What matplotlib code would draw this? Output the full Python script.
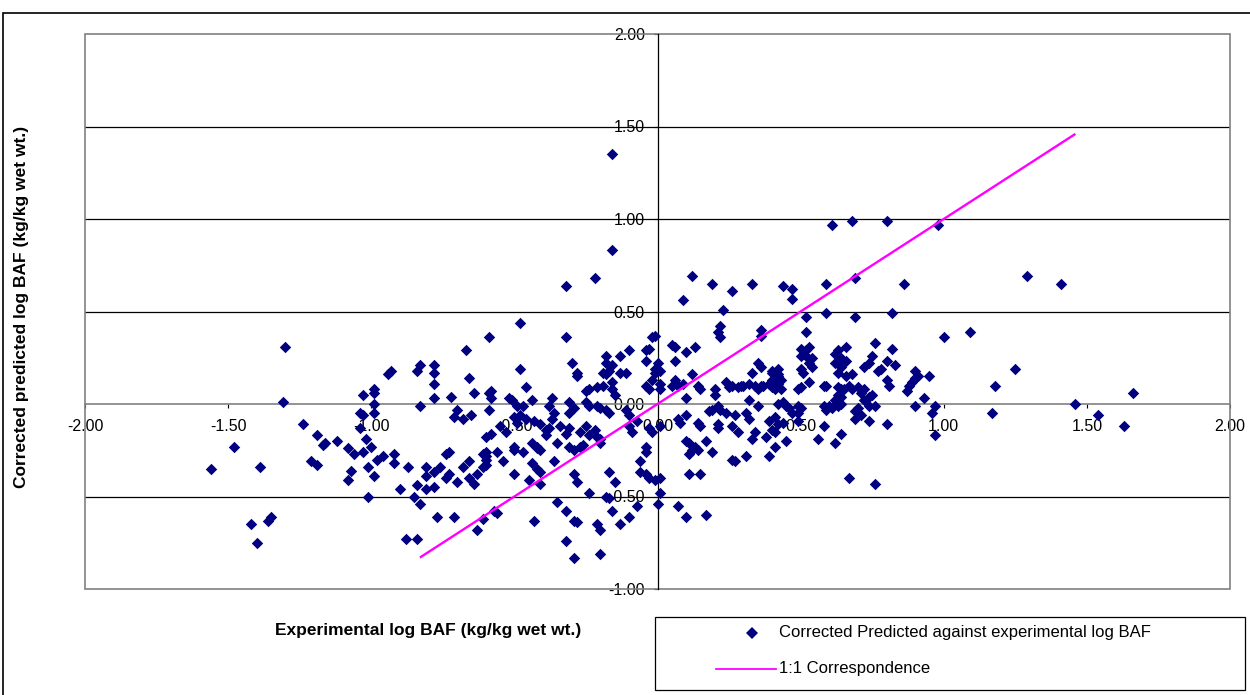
import matplotlib
matplotlib.use("Agg")
import matplotlib.pyplot as plt
from matplotlib.patches import Rectangle
from matplotlib.lines import Line2D
from matplotlib.ticker import FormatStrFormatter

plt.rcParams['font.family'] = ['Liberation Sans', 'DejaVu Sans']

# Experimental log BAF (x) and corrected predicted log BAF (y), one entry per compound
exp_log_baf = [
    -1.56, -1.48, -1.42, -1.40, -1.39, -1.36, -1.35, -1.31, -1.30, -1.24,
    -1.21, -1.19, -1.19, -1.17, -1.16, -1.12, -1.08, -1.06, -1.08, -1.07,
    -1.04, -1.03, -1.04, -1.03, -1.03, -1.02, -1.01, -1.01, -1.00, -0.99,
    -0.99, -0.99, -0.99, -0.99, -0.98, -0.96, -0.94, -0.93, -0.92, -0.92,
    -0.90, -0.88, -0.87, -0.85, -0.84, -0.83, -0.83, -0.84, -0.84, -0.83,
    -0.81, -0.81, -0.81, -0.78, -0.78, -0.78, -0.78, -0.78, -0.78, -0.77,
    -0.76, -0.74, -0.73, -0.74, -0.73, -0.72, -0.71, -0.71, -0.70, -0.70,
    -0.68, -0.68, -0.67, -0.66, -0.66, -0.66, -0.65, -0.64, -0.64, -0.63,
    -0.63, -0.61, -0.61, -0.60, -0.61, -0.60, -0.59, -0.59, -0.59, -0.58,
    -0.58, -0.58, -0.60, -0.60, -0.60, -0.56, -0.54, -0.57, -0.56, -0.55,
    -0.53, -0.52, -0.51, -0.50, -0.49, -0.49, -0.48, -0.48, -0.48, -0.47,
    -0.46, -0.46, -0.50, -0.50, -0.47, -0.50, -0.44, -0.42, -0.42, -0.41,
    -0.44, -0.42, -0.41, -0.45, -0.41, -0.43, -0.44, -0.43, -0.41, -0.39,
    -0.38, -0.39, -0.37, -0.38, -0.36, -0.37, -0.36, -0.35, -0.35, -0.34,
    -0.32, -0.32, -0.32, -0.32, -0.32, -0.31, -0.31, -0.31, -0.31, -0.30,
    -0.29, -0.29, -0.29, -0.29, -0.29, -0.28, -0.28, -0.28, -0.27, -0.27,
    -0.28, -0.26, -0.25, -0.24, -0.25, -0.24, -0.25, -0.24, -0.24, -0.22,
    -0.22, -0.21, -0.21, -0.21, -0.21, -0.20, -0.20, -0.20, -0.20, -0.20,
    -0.19, -0.19, -0.18, -0.18, -0.18, -0.18, -0.18, -0.17, -0.17, -0.17,
    -0.16, -0.16, -0.16, -0.17, -0.16, -0.16, -0.15, -0.15, -0.16, -0.13,
    -0.13, -0.13, -0.11, -0.11, -0.10, -0.10, -0.10, -0.09, -0.10, -0.07,
    -0.07, -0.06, -0.06, -0.04, -0.03, -0.04, -0.04, -0.04, -0.04, -0.04,
    -0.03, -0.03, -0.03, -0.02, -0.01, -0.02, -0.02, -0.01, -0.01, -0.01,
    0.00, 0.00, 0.01, 0.01, 0.01, 0.01, 0.01, 0.01, 0.05, 0.06,
    0.06, 0.06, 0.07, 0.05, 0.07, 0.07, 0.08, 0.09, 0.09, 0.10,
    0.10, 0.10, 0.10, 0.10, 0.11, 0.11, 0.11, 0.12, 0.12, 0.12,
    0.13, 0.13, 0.14, 0.14, 0.15, 0.14, 0.15, 0.15, 0.17, 0.17,
    0.18, 0.19, 0.19, 0.19, 0.20, 0.20, 0.21, 0.21, 0.21, 0.21,
    0.22, 0.22, 0.22, 0.23, 0.24, 0.24, 0.25, 0.26, 0.26, 0.26,
    0.26, 0.27, 0.27, 0.28, 0.28, 0.29, 0.30, 0.31, 0.31, 0.32,
    0.32, 0.32, 0.33, 0.33, 0.33, 0.34, 0.34, 0.35, 0.35, 0.35,
    0.36, 0.36, 0.36, 0.36, 0.37, 0.38, 0.39, 0.39, 0.39, 0.40,
    0.40, 0.41, 0.41, 0.41, 0.41, 0.42, 0.42, 0.40, 0.42, 0.43,
    0.40, 0.42, 0.40, 0.43, 0.42, 0.44, 0.45, 0.46, 0.49, 0.50,
    0.47, 0.49, 0.42, 0.40, 0.44, 0.49, 0.45, 0.44, 0.47, 0.47,
    0.49, 0.50, 0.50, 0.52, 0.53, 0.50, 0.52, 0.54, 0.53, 0.54,
    0.50, 0.51, 0.53, 0.52, 0.52, 0.56, 0.58, 0.59, 0.58, 0.58,
    0.59, 0.59, 0.59, 0.60, 0.61, 0.61, 0.62, 0.62, 0.62, 0.62,
    0.63, 0.63, 0.63, 0.63, 0.63, 0.64, 0.64, 0.64, 0.64, 0.64,
    0.64, 0.65, 0.66, 0.66, 0.66, 0.67, 0.67, 0.68, 0.68, 0.68,
    0.69, 0.69, 0.69, 0.69, 0.70, 0.70, 0.71, 0.71, 0.72, 0.72,
    0.72, 0.74, 0.74, 0.74, 0.74, 0.75, 0.75, 0.76, 0.76, 0.76,
    0.77, 0.78, 0.80, 0.80, 0.80, 0.80, 0.81, 0.82, 0.82, 0.83,
    0.86, 0.87, 0.88, 0.89, 0.90, 0.90, 0.91, 0.90, 0.93, 0.95,
    0.97, 0.96, 0.97, 0.98, 1.00, 1.09, 1.17, 1.18, 1.25, 1.29,
    1.41, 1.46, 1.54, 1.63, 1.66,
]

pred_log_baf = [
    -0.35, -0.23, -0.65, -0.75, -0.34, -0.63, -0.61, 0.01, 0.31, -0.11,
    -0.31, -0.17, -0.33, -0.22, -0.21, -0.20, -0.24, -0.27, -0.41, -0.36,
    -0.05, -0.06, -0.13, 0.05, -0.26, -0.19, -0.34, -0.50, -0.23, 0.06,
    0.08, 0.00, -0.05, -0.39, -0.30, -0.28, 0.16, 0.18, -0.27, -0.32,
    -0.46, -0.73, -0.34, -0.50, 0.18, 0.21, -0.01, -0.44, -0.73, -0.54,
    -0.34, -0.39, -0.46, 0.21, 0.17, 0.11, 0.03, -0.37, -0.45, -0.61,
    -0.34, -0.27, -0.26, -0.40, -0.38, 0.04, -0.07, -0.61, -0.03, -0.42,
    -0.08, -0.34, 0.29, 0.14, -0.31, -0.40, -0.06, 0.06, -0.43, -0.38,
    -0.68, -0.27, -0.62, -0.30, -0.34, -0.18, 0.36, 0.06, -0.03, 0.07,
    0.03, -0.16, -0.26, -0.28, -0.33, -0.26, -0.31, -0.58, -0.59, -0.12,
    -0.15, 0.03, 0.02, -0.07, -0.10, -0.01, 0.44, 0.19, -0.06, -0.01,
    0.09, -0.08, -0.23, -0.25, -0.26, -0.38, -0.21, -0.23, -0.24, -0.25,
    -0.32, -0.35, -0.37, -0.41, -0.43, -0.63, 0.02, -0.09, -0.11, -0.14,
    -0.13, -0.17, 0.03, -0.01, -0.05, -0.08, -0.31, -0.21, -0.53, -0.12,
    0.36, 0.64, -0.16, -0.58, -0.74, 0.01, -0.05, -0.13, -0.23, 0.22,
    -0.02, -0.25, -0.38, -0.63, -0.83, 0.17, 0.15, -0.42, -0.15, -0.23,
    -0.64, -0.22, 0.07, 0.08, 0.01, -0.01, -0.12, -0.17, -0.48, -0.14,
    0.68, 0.09, -0.01, -0.18, -0.65, -0.02, -0.19, -0.21, -0.68, -0.81,
    0.10, 0.17, 0.26, 0.22, 0.16, -0.03, -0.50, -0.05, -0.37, -0.51,
    1.35, 0.83, 0.21, 0.18, 0.12, 0.08, 0.05, -0.42, -0.58, 0.26,
    0.17, -0.65, 0.17, -0.03, 0.29, -0.06, -0.12, -0.15, -0.61, -0.09,
    -0.55, -0.31, -0.37, 0.29, 0.30, 0.23, 0.10, -0.23, -0.26, -0.38,
    0.08, -0.13, -0.40, 0.36, 0.37, 0.13, -0.15, 0.19, 0.17, -0.41,
    0.22, -0.54, 0.18, 0.11, 0.08, -0.12, -0.40, -0.48, 0.32, 0.31,
    0.23, 0.13, 0.10, 0.10, -0.08, -0.55, -0.10, 0.56, 0.11, 0.28,
    0.03, -0.06, -0.20, -0.61, -0.21, -0.27, -0.38, 0.69, 0.16, -0.25,
    0.31, -0.23, -0.25, -0.10, -0.12, 0.10, 0.08, -0.38, -0.20, -0.60,
    -0.04, 0.65, -0.03, -0.26, 0.08, 0.05, -0.01, 0.39, -0.11, -0.13,
    0.42, 0.36, -0.03, 0.51, 0.12, -0.05, 0.09, 0.10, 0.61, -0.12,
    -0.30, -0.06, -0.31, 0.09, -0.15, 0.10, 0.10, -0.05, -0.28, 0.11,
    0.02, -0.08, 0.65, 0.17, -0.19, 0.10, -0.15, 0.22, 0.08, -0.01,
    0.20, 0.40, 0.37, 0.10, 0.10, -0.18, 0.11, -0.09, -0.28, 0.10,
    0.18, 0.08, -0.07, -0.15, -0.23, 0.16, 0.19, 0.17, 0.15, 0.13,
    0.13, 0.11, 0.09, 0.08, 0.00, 0.01, -0.01, -0.02, -0.01, -0.02,
    -0.05, -0.05, -0.11, -0.14, -0.10, -0.09, -0.20, 0.64, 0.62, 0.57,
    0.08, 0.09, 0.30, 0.29, 0.31, 0.26, 0.26, 0.25, 0.22, 0.20,
    0.19, 0.17, 0.12, 0.47, 0.39, -0.19, 0.10, 0.10, -0.01, -0.12,
    0.49, 0.65, -0.03, -0.01, -0.02, 0.97, 0.27, 0.22, 0.02, -0.21,
    0.29, 0.17, 0.09, 0.05, -0.01, 0.25, 0.20, 0.08, 0.04, 0.00,
    -0.16, 0.08, 0.31, 0.23, 0.15, 0.10, -0.40, 0.16, 0.08, 0.99,
    0.68, 0.47, -0.04, -0.08, 0.09, -0.02, 0.06, -0.06, 0.08, 0.02,
    0.20, 0.04, 0.22, -0.01, -0.09, 0.05, 0.26, -0.01, 0.33, -0.43,
    0.18, 0.19, 0.23, 0.13, -0.11, 0.99, 0.10, 0.49, 0.30, 0.21,
    0.65, 0.07, 0.10, 0.12, 0.14, 0.18, 0.15, -0.01, 0.03, 0.15,
    -0.01, -0.05, -0.17, 0.97, 0.36, 0.39, -0.05, 0.10, 0.19, 0.69,
    0.65, 0.00, -0.06, -0.12, 0.06,
]

# 1:1 correspondence line end points
one_to_one = [-0.83, 1.46]

x_ticks = [-2.0, -1.5, -1.0, -0.5, 0.0, 0.5, 1.0, 1.5, 2.0]
y_ticks = [-1.0, -0.5, 0.0, 0.5, 1.0, 1.5, 2.0]
grid_levels = [-0.5, 0.5, 1.0, 1.5]

W, H = 1250, 695
fig = plt.figure(figsize=(W / 100, H / 100), dpi=100)
fig.patch.set_facecolor('white')

ax = fig.add_axes([85 / W, 1 - 589 / H, (1230 - 85) / W, (589 - 34) / H])
ax.set_xlim(-2, 2)
ax.set_ylim(-1, 2)

for lvl in grid_levels:
    ax.axhline(lvl, color='black', lw=0.9, zorder=1)

ax.scatter(exp_log_baf, pred_log_baf, marker='D', s=34, color='#000080',
           linewidths=0, zorder=3)
ax.plot(one_to_one, one_to_one, color='#FF00FF', lw=1.7, zorder=4,
        solid_capstyle='butt')

# Axes cross at the origin
for side in ('top', 'right'):
    ax.spines[side].set_visible(False)
ax.spines['left'].set_position(('data', 0))
ax.spines['bottom'].set_position(('data', 0))
ax.spines['left'].set_color('black')
ax.spines['left'].set_linewidth(0.9)
ax.spines['bottom'].set_color('#808080')
ax.spines['bottom'].set_linewidth(1.2)
ax.spines['left'].set_zorder(2)
ax.spines['bottom'].set_zorder(2)

ax.add_patch(Rectangle((0, 0), 1, 1, transform=ax.transAxes, fill=False,
                       edgecolor='#808080', lw=1.2, zorder=2, clip_on=False))

ax.set_xticks(x_ticks)
ax.set_yticks(y_ticks)
ax.xaxis.set_major_formatter(FormatStrFormatter('%.2f'))
ax.yaxis.set_major_formatter(FormatStrFormatter('%.2f'))
ax.tick_params(axis='x', direction='out', length=3, width=0.8, pad=8,
               labelsize=11.5, colors='black')
ax.tick_params(axis='y', direction='out', length=3, width=0.8, pad=6,
               labelsize=11.5, colors='black')

# Axis titles
fig.text(428 / W, 1 - 630 / H, 'Experimental log BAF (kg/kg wet wt.)',
         ha='center', va='center', fontsize=12.5, fontweight='bold')
fig.text(22 / W, 1 - 307 / H, 'Corrected predicted log BAF (kg/kg wet wt.)',
         ha='center', va='center', rotation=90, fontsize=12.5,
         fontweight='bold')

# Legend box
fig.add_artist(Rectangle((655 / W, 1 - 690 / H), 590 / W, 73 / H,
                         transform=fig.transFigure, fill=False,
                         edgecolor='black', lw=0.9))
fig.add_artist(Line2D([752 / W], [1 - 633 / H], transform=fig.transFigure,
                      marker='D', markersize=5.8, color='#000080',
                      markeredgewidth=0, linestyle='none'))
fig.add_artist(Line2D([716 / W, 776 / W], [1 - 669 / H, 1 - 669 / H],
                      transform=fig.transFigure, color='#FF00FF', lw=1.3))
fig.text(779 / W, 1 - 633 / H, 'Corrected Predicted against experimental log BAF',
         ha='left', va='center', fontsize=12)
fig.text(779 / W, 1 - 669 / H, '1:1 Correspondence',
         ha='left', va='center', fontsize=12)

# Chart frame
fig.add_artist(Rectangle((3 / W, -0.05), 1.2, 1 - 13 / H + 0.05,
                         transform=fig.transFigure, fill=False,
                         edgecolor='black', lw=1.2))

fig.savefig('out.png', dpi=100)
